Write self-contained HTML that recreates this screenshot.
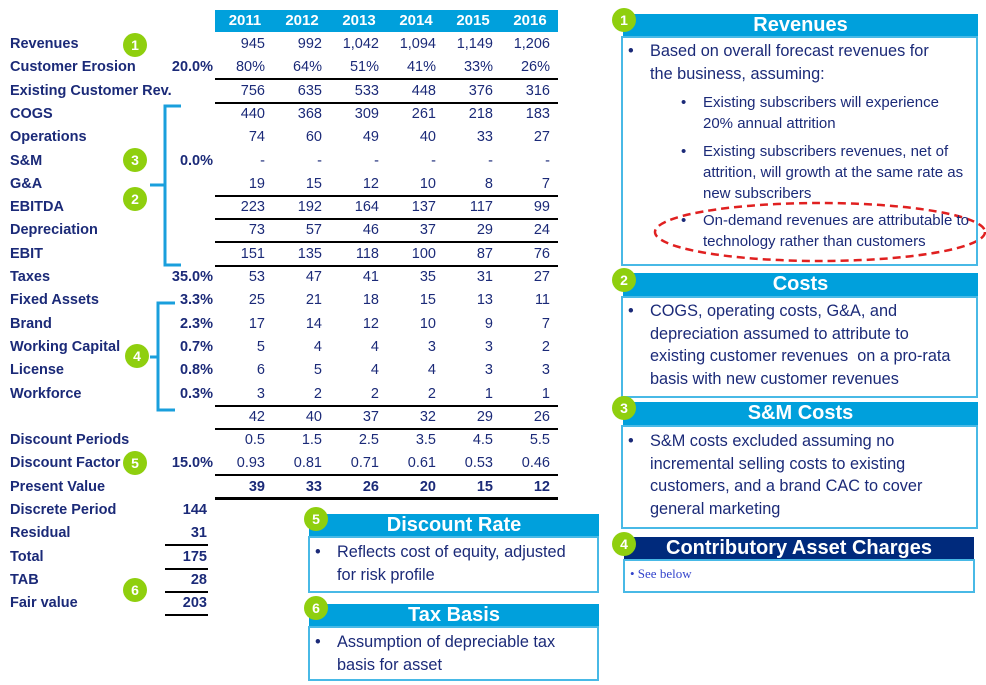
<!DOCTYPE html>
<html><head><meta charset="utf-8">
<style>
*{margin:0;padding:0;box-sizing:border-box}
body{width:986px;height:685px;background:#fff;position:relative;overflow:hidden;font-family:"Liberation Sans",sans-serif;color:#1b2a78}
.a{position:absolute}
.lbl{position:absolute;left:10px;font-weight:bold;font-size:14.5px;line-height:16px;white-space:nowrap}
.pct{position:absolute;right:773px;font-weight:bold;font-size:14.5px;line-height:16px;text-align:right}
.num{position:absolute;font-size:14.5px;line-height:16px;text-align:right;width:60px}
.ln{position:absolute;height:2px;background:#000}
.g{position:absolute;width:24px;height:24px;border-radius:50%;background:#8fcf0e;color:#fff;font-weight:bold;font-size:14px;line-height:24px;text-align:center}
.hd{position:absolute;background:#00a0dc;color:#fff;font-weight:bold;font-size:20px;text-align:center;line-height:23px}
.bx{position:absolute;border:2px solid #48b9e6;font-size:16.3px;line-height:22.5px;color:#1b2a78}
.bul{position:absolute}
.bul:before{content:"•";position:absolute;left:-22px}
</style></head><body>
<div class="a" style="left:215px;top:10px;width:343px;height:22px;background:#00a0dc"></div>
<div id="tbl"></div>

<svg class="a" style="left:0;top:0" width="986" height="685">
<path d="M181,106 H165 V265 H181 M165,185 H150" fill="none" stroke="#1a9fdc" stroke-width="3"/>
<path d="M175,303 H158 V410 H175 M158,357 H150" fill="none" stroke="#1a9fdc" stroke-width="3"/>
<ellipse cx="820" cy="232" rx="165" ry="29" fill="none" stroke="#e02020" stroke-width="2.5" stroke-dasharray="8,5"/>
</svg>

<div class="g" style="left:123px;top:33px">1</div>
<div class="g" style="left:123px;top:148px">3</div>
<div class="g" style="left:123px;top:187px">2</div>
<div class="g" style="left:125px;top:344px">4</div>
<div class="g" style="left:123px;top:451px">5</div>
<div class="g" style="left:123px;top:578px">6</div>

<div class="hd" style="left:623px;top:14px;width:355px;height:23px">Revenues</div>
<div class="bx" style="left:621px;top:36px;width:357px;height:230px">
 <div class="bul" style="left:27px;top:2px;width:305px">Based on overall forecast revenues for the business, assuming:</div>
 <div class="bul" style="left:80px;top:54px;width:262px;font-size:15px;line-height:21px">Existing subscribers will experience 20% annual attrition</div>
 <div class="bul" style="left:80px;top:103px;width:270px;font-size:15px;line-height:21px">Existing subscribers revenues, net of attrition, will growth at the same rate as new subscribers</div>
 <div class="bul" style="left:80px;top:172px;width:275px;font-size:15px;line-height:21px">On-demand revenues are attributable to technology rather than customers</div>
</div>
<div class="g" style="left:612px;top:8px">1</div>

<div class="hd" style="left:623px;top:273px;width:355px;height:24px">Costs</div>
<div class="bx" style="left:621px;top:296px;width:357px;height:102px">
 <div class="bul" style="left:27px;top:2px;width:325px">COGS, operating costs, G&amp;A, and<br>depreciation assumed to attribute to<br>existing customer revenues &nbsp;on a pro-rata<br>basis with new customer revenues</div>
</div>
<div class="g" style="left:612px;top:268px">2</div>

<div class="hd" style="left:623px;top:402px;width:355px;height:24px">S&amp;M Costs</div>
<div class="bx" style="left:621px;top:425px;width:357px;height:104px">
 <div class="bul" style="left:27px;top:3px;width:310px">S&amp;M costs excluded assuming no<br>incremental selling costs to existing<br>customers, and a brand CAC to cover<br>general marketing</div>
</div>
<div class="g" style="left:612px;top:396px">3</div>

<div class="hd" style="left:624px;top:537px;width:350px;height:23px;background:#002a7c">Contributory Asset Charges</div>
<div class="bx" style="left:623px;top:559px;width:352px;height:34px;font-family:'Liberation Serif',serif;font-size:13px;color:#3344cc">
 <div class="a" style="left:5px;top:5px;line-height:16px">• See below</div>
</div>
<div class="g" style="left:612px;top:532px">4</div>

<div class="hd" style="left:309px;top:514px;width:290px;height:23px">Discount Rate</div>
<div class="bx" style="left:308px;top:536px;width:291px;height:57px">
 <div class="bul" style="left:27px;top:3px;width:255px">Reflects cost of equity, adjusted<br>for risk profile</div>
</div>
<div class="g" style="left:304px;top:507px">5</div>

<div class="hd" style="left:309px;top:604px;width:290px;height:23px">Tax Basis</div>
<div class="bx" style="left:308px;top:626px;width:291px;height:55px">
 <div class="bul" style="left:27px;top:3px;width:255px">Assumption of depreciable tax<br>basis for asset</div>
</div>
<div class="g" style="left:304px;top:596px">6</div>

<script>
const years = ["2011","2012","2013","2014","2015","2016"];
const rowLabels = ["Revenues","Customer Erosion","Existing Customer Rev.","COGS","Operations","S&M","G&A","EBITDA","Depreciation","EBIT","Taxes","Fixed Assets","Brand","Working Capital","License","Workforce","","Discount Periods","Discount Factor","Present Value"];
const rowPcts = ["","20.0%","","","","0.0%","","","","","35.0%","3.3%","2.3%","0.7%","0.8%","0.3%","","","15.0%",""];
const rowValues = [
 ["945","992","1,042","1,094","1,149","1,206"],
 ["80%","64%","51%","41%","33%","26%"],
 ["756","635","533","448","376","316"],
 ["440","368","309","261","218","183"],
 ["74","60","49","40","33","27"],
 ["-","-","-","-","-","-"],
 ["19","15","12","10","8","7"],
 ["223","192","164","137","117","99"],
 ["73","57","46","37","29","24"],
 ["151","135","118","100","87","76"],
 ["53","47","41","35","31","27"],
 ["25","21","18","15","13","11"],
 ["17","14","12","10","9","7"],
 ["5","4","4","3","3","2"],
 ["6","5","4","4","3","3"],
 ["3","2","2","2","1","1"],
 ["42","40","37","32","29","26"],
 ["0.5","1.5","2.5","3.5","4.5","5.5"],
 ["0.93","0.81","0.71","0.61","0.53","0.46"],
 ["39","33","26","20","15","12"]
];
const summaryLabels = ["Discrete Period","Residual","Total","TAB","Fair value"];
const summaryValues = ["144","31","175","28","203"];
const linesAfterRow = [1,2,6,7,8,9,15,16,18];

const root = document.getElementById('tbl');
const colRight = i => 265 + i*57;
const rowY = r => 36 + r*23.3;
function add(cls, txt, style){
 const d=document.createElement('div'); d.className=cls; d.textContent=txt; d.style.cssText=style; root.appendChild(d); return d;
}
years.forEach((y,i)=>{
 const d=add('a',y,`left:${colRight(i)-45}px;top:12px;width:50px;text-align:center;color:#fff;font-weight:bold;font-size:15px;line-height:18px`);
 
 
});
rowLabels.forEach((l,r)=>{
 const top=rowY(r);
 if(l){const d=add('lbl',l,`top:${top}px`);
  
  }
 if(rowPcts[r]){const d=add('pct',rowPcts[r],`top:${top}px`);
  
  }
 rowValues[r].forEach((v,i)=>{
  const bold = r===19 ? 'font-weight:bold;' : '';
  const d=add('num',v,`left:${colRight(i)-60}px;top:${top}px;${bold}`);
  
  
 });
});
linesAfterRow.forEach(r=>{
 const d=add('ln','',`left:215px;width:343px;top:${rowY(r)+19}px`);
 
 
});
const pvLine=add('ln','',`left:215px;width:343px;top:${rowY(19)+18}px;height:3px`);


summaryLabels.forEach((l,k)=>{
 const top=rowY(20+k);
 const a=add('lbl',l,`top:${top}px`);
 
 
 const b=add('num',summaryValues[k],`left:147px;top:${top}px;font-weight:bold`);
 
 
 if(k>=1){const ln=add('ln','',`left:165px;width:43px;top:${top+19}px`);
  
  }
});
</script>
</body></html>
